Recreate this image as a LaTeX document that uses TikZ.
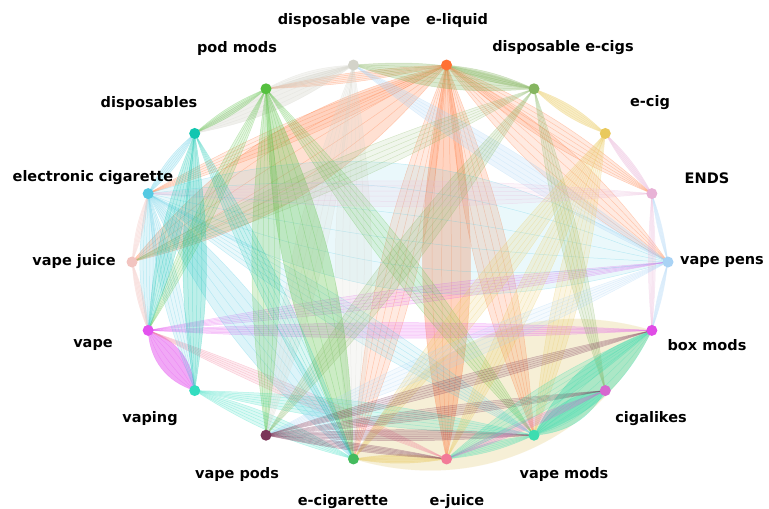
\documentclass[tikz,border=0pt]{standalone}
\usepackage{fontspec}
\setmainfont{DejaVu Sans}
\usetikzlibrary{calc}
\pgfdeclarelayer{bg}
\pgfsetlayers{bg,main}
\definecolor{cVPens}{HTML}{A9D3F5}
\definecolor{cBox}{HTML}{E04CE6}
\definecolor{cCig}{HTML}{D668CF}
\definecolor{cVMods}{HTML}{3DDDB0}
\definecolor{cEJuice}{HTML}{F27A98}
\definecolor{cECig}{HTML}{44BB5E}
\definecolor{cVPods}{HTML}{7B3558}
\definecolor{cVaping}{HTML}{33DDC0}
\definecolor{cVape}{HTML}{E352EE}
\definecolor{cVJuice}{HTML}{F2C4C0}
\definecolor{cElec}{HTML}{55C9E2}
\definecolor{cDisp}{HTML}{12C6B0}
\definecolor{cPod}{HTML}{55C03F}
\definecolor{cDVape}{HTML}{D3D3C9}
\definecolor{cELiq}{HTML}{FF7133}
\definecolor{cDEcigs}{HTML}{85B560}
\definecolor{cEcig}{HTML}{E9C95D}
\definecolor{cENDS}{HTML}{E8B2D6}
\definecolor{cBeige}{HTML}{F6EFD6}
\newcommand\bund[5]{%
  \begin{pgfonlayer}{bg}
  \fill[#3,fill opacity=#5] (n#1.center) to[bend left=#4] (n#2.center) to[bend left=#4] (n#1.center);
  \foreach \t in {-1,-0.6,-0.2,0.2,0.6,1}{%
    \pgfmathsetmacro\bb{#4*\t}
    \draw[#3,draw opacity=.3,line width=.5pt] (n#1.center) to[bend left=\bb] (n#2.center);}
  \end{pgfonlayer}}
\begin{document}
\begin{tikzpicture}[x=1pt,y=-1pt,
  dot/.style={circle,inner sep=0pt,minimum size=11pt},
  lab/.style={font=\bfseries\fontsize{14.5}{16}\selectfont,text=black}]
\useasboundingbox (0,0) rectangle (769,509);
\foreach \i/\c in {0/cVPens,1/cBox,2/cCig,3/cVMods,4/cEJuice,5/cECig,6/cVPods,7/cVaping,8/cVape,9/cVJuice,10/cElec,11/cDisp,12/cPod,13/cDVape,14/cELiq,15/cDEcigs,16/cEcig,17/cENDS}
  \node[dot,fill=\c] (n\i) at ({400+268*cos(20*\i)},{262+200*sin(20*\i)}) {};
\foreach \ea/\eb/\ec/\ed/\eo in {
 5/1/cBeige/40/1,
 14/4/cELiq/12/.3, 14/9/cELiq/18/.22, 14/3/cELiq/9/.18, 14/5/cELiq/9/.15, 14/0/cELiq/12/.15,
 14/17/cELiq/9/.15, 14/12/cELiq/5/.15, 14/10/cELiq/6/.12,
 3/1/cVMods/22/.4, 3/2/cVMods/28/.4, 3/7/cVaping/6/.18, 7/5/cVaping/9/.18,
 8/7/cVape/35/.5, 8/1/cVape/3/.18, 8/0/cVape/3/.12, 8/4/cEJuice/4/.15,
 10/5/cElec/12/.2, 10/0/cElec/24/.12, 10/11/cElec/12/.18, 10/8/cElec/12/.18, 10/7/cElec/9/.15, 10/3/cElec/6/.12,
 13/11/cDVape/12/.35, 13/12/cDVape/12/.25, 13/5/cDVape/9/.18, 13/6/cDVape/8/.18, 13/15/cDEcigs/12/.3, 13/0/cVPens/6/.22,
 12/5/cPod/12/.3, 12/6/cPod/8/.22, 12/3/cPod/6/.15, 12/11/cPod/9/.18, 12/8/cPod/6/.15,
 15/14/cDEcigs/9/.3, 15/6/cDEcigs/6/.18, 15/2/cDEcigs/6/.18, 15/9/cDEcigs/6/.12,
 16/15/cEcig/12/.35, 16/5/cEcig/6/.18, 16/4/cEcig/6/.18, 16/3/cEcig/8/.18, 16/17/cENDS/9/.3,
 17/10/cENDS/5/.12, 17/1/cENDS/5/.18,
 0/1/cVPens/6/.22, 0/17/cVPens/6/.22, 0/6/cVPens/5/.12,
 5/4/cEcig/9/.35, 6/4/cVPods/4/.2, 6/3/cVPods/4/.2, 6/1/cVPods/3/.15, 6/2/cVPods/3/.12,
 11/7/cDisp/9/.28, 11/8/cDisp/9/.22, 11/5/cDisp/6/.15,
 9/8/cVJuice/9/.35, 9/10/cVJuice/9/.25, 4/3/cVMods/9/.25, 2/4/cCig/5/.18, 1/4/cVMods/9/.22}
 {\bund{\ea}{\eb}{\ec}{\ed}{\eo}}
\node[lab] (l0) at (722,262) {vape pens};
\node[lab] (l1) at (707,345) {box mods};
\node[lab] (l2) at (651,419) {cigalikes};
\node[lab] (l3) at (564,474) {vape mods};
\node[lab] (l4) at (457,502) {e-juice};
\node[lab] (l5) at (343,502) {e-cigarette};
\node[lab] (l6) at (237,474) {vape pods};
\node[lab] (l7) at (150,419) {vaping};
\node[lab] (l8) at (93,345) {vape};
\node[lab] (l9) at (74,262) {vape juice};
\node[lab] (l10) at (93,178) {electronic cigarette};
\node[lab] (l11) at (149,103) {disposables};
\node[lab] (l12) at (237,48) {pod mods};
\node[lab] (l13) at (344,20) {disposable vape};
\node[lab] (l14) at (457,20) {e-liquid};
\node[lab] (l15) at (563,48) {disposable e-cigs};
\node[lab] (l16) at (650,103) {e-cig};
\node[lab] (l17) at (707,178) {ENDS};
\end{tikzpicture}
\end{document}
